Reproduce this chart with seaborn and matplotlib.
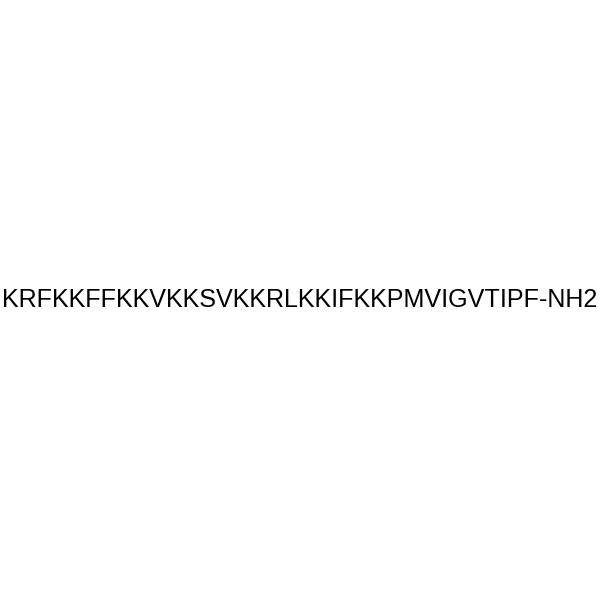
import matplotlib
matplotlib.use('Agg')
import matplotlib.pyplot as plt
import seaborn as sns

# --- Data ---
SEQUENCE = 'KRFKKFFKKVKKSVKKRLKKIFKKPMVIGVTIPF'
C_TERMINUS = 'NH2'
LABEL = f'{SEQUENCE}-{C_TERMINUS}'

sns.set_style('white')
plt.rcParams['font.family'] = ['Liberation Sans', 'DejaVu Sans']

fig = plt.figure(figsize=(6, 6), dpi=100)
ax = fig.add_axes([0, 0, 1, 1])
ax.set_axis_off()
ax.text(0.5, 0.5, LABEL, ha='center', va='center', fontsize=18.1,
        color='black', transform=ax.transAxes)

fig.savefig('out.png', dpi=100, facecolor='white')
plt.close(fig)
